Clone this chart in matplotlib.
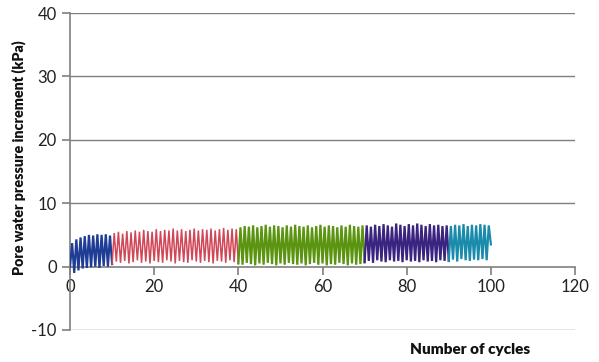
import matplotlib
matplotlib.use("Agg")
import matplotlib.pyplot as plt
import numpy as np

plt.rcParams['font.family'] = ['Lato', 'DejaVu Sans']
plt.rcParams['axes.unicode_minus'] = False

# Segment boundaries (cycles) and colours
seg_starts = [0, 10, 40, 70, 90]
seg_colors = ['#1f3d95', '#d04858', '#5a9410', '#3a2480', '#1a8bab']
seg_widths = [1.6, 1.1, 1.6, 1.6, 1.6]

# Peak values (one per cycle) and trough values (one per cycle start)
blue_peaks = [3.7, 4.3, 4.6, 4.8, 5.0, 4.9, 5.1, 5.0, 5.1, 4.9]
blue_troughs = [0.0, -1.0, -0.6, -0.3, -0.2, -0.1, 0.0, -0.2, 0.1, 0.0]

red_peaks = [5.3, 5.5, 5.2, 5.6, 5.4, 5.7, 5.5, 5.8, 5.6, 5.5,
             5.9, 5.6, 5.8, 5.7, 6.0, 5.7, 5.9, 5.6, 5.8, 6.0,
             5.7, 5.9, 5.8, 6.0, 5.7, 5.9, 6.1, 5.8, 6.0, 5.9]
red_troughs = [0.4, 0.8, 0.6, 0.9, 0.5, 0.7, 1.0, 0.6, 0.8, 0.5,
               0.9, 0.7, 0.6, 1.0, 0.8, 0.5, 0.9, 0.7, 0.6, 1.0,
               0.8, 0.6, 0.9, 0.7, 0.5, 0.9, 0.8, 0.6, 1.0, 0.7]

green_peaks = [6.2, 6.4, 6.3, 6.5, 6.2, 6.4, 6.6, 6.3, 6.5, 6.4,
               6.2, 6.5, 6.3, 6.6, 6.4, 6.3, 6.5, 6.2, 6.4, 6.6,
               6.3, 6.5, 6.4, 6.2, 6.5, 6.3, 6.6, 6.4, 6.3, 6.5]
green_troughs = [0.5, 0.3, 0.6, 0.4, 0.2, 0.5, 0.3, 0.6, 0.4, 0.2,
                 0.5, 0.3, 0.6, 0.4, 0.3, 0.5, 0.2, 0.4, 0.6, 0.3,
                 0.5, 0.2, 0.4, 0.3, 0.6, 0.4, 0.2, 0.5, 0.3, 0.4]

purple_peaks = [6.5, 6.3, 6.6, 6.4, 6.7, 6.5, 6.3, 6.8, 6.6, 6.4,
                6.7, 6.5, 6.8, 6.6, 6.4, 6.7, 6.5, 6.6, 6.4, 6.5]
purple_troughs = [0.7, 0.9, 0.6, 1.0, 0.8, 0.7, 1.0, 0.8, 0.9, 0.7,
                  1.0, 0.8, 0.9, 0.7, 1.0, 0.8, 0.9, 0.7, 1.0, 0.9]

teal_peaks = [6.4, 6.6, 6.5, 6.7, 6.4, 6.6, 6.5, 6.7, 6.6, 6.5]
teal_troughs = [0.9, 1.1, 0.8, 1.2, 1.0, 0.9, 1.1, 1.0, 1.2, 1.0]
final_value = 3.5

all_peaks = [blue_peaks, red_peaks, green_peaks, purple_peaks, teal_peaks]
all_troughs = [blue_troughs, red_troughs, green_troughs, purple_troughs, teal_troughs]

fig = plt.figure(figsize=(5.99, 3.62), dpi=100)
ax = fig.add_axes([0.1169, 0.0884, 0.8431, 0.8756])

for i, (start, peaks, troughs, col, lw) in enumerate(
        zip(seg_starts, all_peaks, all_troughs, seg_colors, seg_widths)):
    xs, ys = [], []
    for k, (p, t) in enumerate(zip(peaks, troughs)):
        xs += [start + k, start + k + 0.5]
        ys += [t, p]
    end = start + len(peaks)
    xs.append(end)
    if i + 1 < len(all_troughs):
        ys.append(all_troughs[i + 1][0])
    else:
        ys.append(final_value)
    ax.plot(xs, ys, color=col, lw=lw, solid_joinstyle='miter', zorder=3)

ax.set_xlim(0, 120)
ax.set_ylim(-10, 40)
ax.set_xticks([0, 20, 40, 60, 80, 100, 120])
ax.set_yticks([-10, 0, 10, 20, 30, 40])

for s in ['top', 'right']:
    ax.spines[s].set_visible(False)
ax.spines['bottom'].set_position(('data', 0))
ax.spines['bottom'].set_color('#7f7f7f')
ax.spines['left'].set_color('#7f7f7f')
ax.spines['bottom'].set_linewidth(1.2)
ax.spines['left'].set_linewidth(1.2)

for yv in [-10, 10, 20, 30, 40]:
    ax.axhline(yv, color='#7f7f7f', lw=1.0, zorder=1)

ax.tick_params(axis='both', direction='out', length=6, width=1.2,
               color='#7f7f7f', labelsize=12, labelcolor='#222222')
ax.tick_params(axis='x', pad=3)

ax.set_ylabel('Pore water pressure increment (kPa)', fontsize=10.3,
              fontweight='heavy', color='#111111')
ax.yaxis.set_label_coords(-0.088, 0.545)
fig.text(0.785, 0.035, 'Number of cycles', fontsize=11, fontweight='heavy',
         color='#111111', ha='center', va='center')

fig.savefig('out.png', dpi=100)
